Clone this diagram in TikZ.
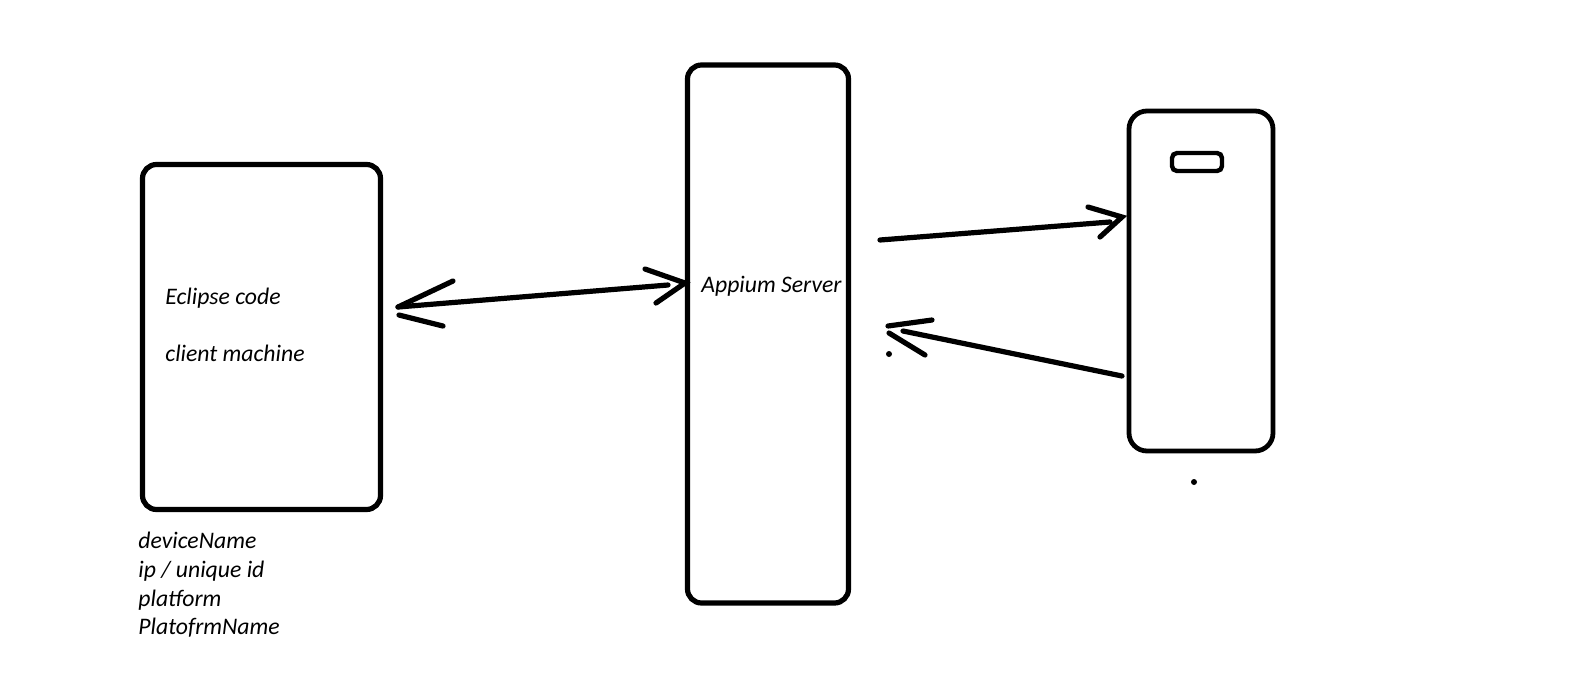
\documentclass[tikz,border=0pt]{standalone}
\usepackage{fontspec}
\setmainfont{Carlito}
\usetikzlibrary{positioning}
\tikzset{
   box/.style={rectangle,draw,line width=2.6pt,rounded corners=7pt,inner sep=0pt,outer sep=0pt},
   pen/.style={line width=2.6pt,line cap=round},
   lbl/.style={anchor=base west,inner sep=0pt,font=\fontsize{11.85}{14}\selectfont\itshape},
   blot/.style={circle,fill,inner sep=0pt,minimum size=3pt},
}
\begin{document}
\begin{tikzpicture}[x=0.5pt,y=-0.5pt]

        \useasboundingbox (0,0) rectangle (1575,692);

        \node[box,minimum width=119pt,minimum height=172.5pt] (client) at (261.5, 337) {};
        \node[box,minimum width=80.5pt,minimum height=269pt] (server) at (768, 334) {};
        \node[box,line width=2.4pt,rounded corners=9pt,minimum width=72pt,minimum height=170pt] (phone) at (1201, 281) {};
        \node[box,line width=2.2pt,rounded corners=2.5pt,minimum width=25pt,minimum height=9pt] (speaker) at (1197, 162) {};

        \node[lbl] (eclipse) at (165, 304) {Eclipse code};
        \node[lbl] (machine) at (165, 361) {client machine};
        \node[lbl] (appium) at (701, 292) {Appium Server};
        \node[lbl] (devname) at (138, 548) {deviceName};
        \node[lbl] (uid) at (138, 577) {ip / unique id};
        \node[lbl] (platform) at (138, 606) {platform};
        \node[lbl] (platname) at (138, 634) {PlatofrmName};

        \node[blot] (dot1) at (889, 354) {};
        \node[blot] (dot2) at (1194, 482) {};

        % client <-> server
        \coordinate (a1) at (398, 307);
        \coordinate (a2) at (668, 285);
        \coordinate (a3) at (453, 281);
        \coordinate (a4) at (399, 315);
        \coordinate (a5) at (443, 326);
        \coordinate (a6) at (685, 283);
        \coordinate (a7) at (645, 269);
        \coordinate (a8) at (656, 303);

        \draw[pen] (a1) -- (a2);
        \draw[pen] (a3) -- (a1);
        \draw[pen] (a4) -- (a5);
        \draw[pen] (a7) -- (a6) -- (a8);

        % server -> phone
        \coordinate (b1) at (880, 240);
        \coordinate (b2) at (1110, 222);
        \coordinate (b3) at (1088, 207);
        \coordinate (b4) at (1122, 217);
        \coordinate (b5) at (1100, 237);

        \draw[pen] (b1) -- (b2);
        \draw[pen] (b3) -- (b4) -- (b5);

        % phone -> server
        \coordinate (c1) at (1122, 376);
        \coordinate (c2) at (903, 331);
        \coordinate (c3) at (932, 320);
        \coordinate (c4) at (888, 326);
        \coordinate (c5) at (889, 333);
        \coordinate (c6) at (925, 355);

        \draw[pen] (c1) -- (c2);
        \draw[pen] (c3) -- (c4);
        \draw[pen] (c5) -- (c6);

      \end{tikzpicture}
\end{document}
